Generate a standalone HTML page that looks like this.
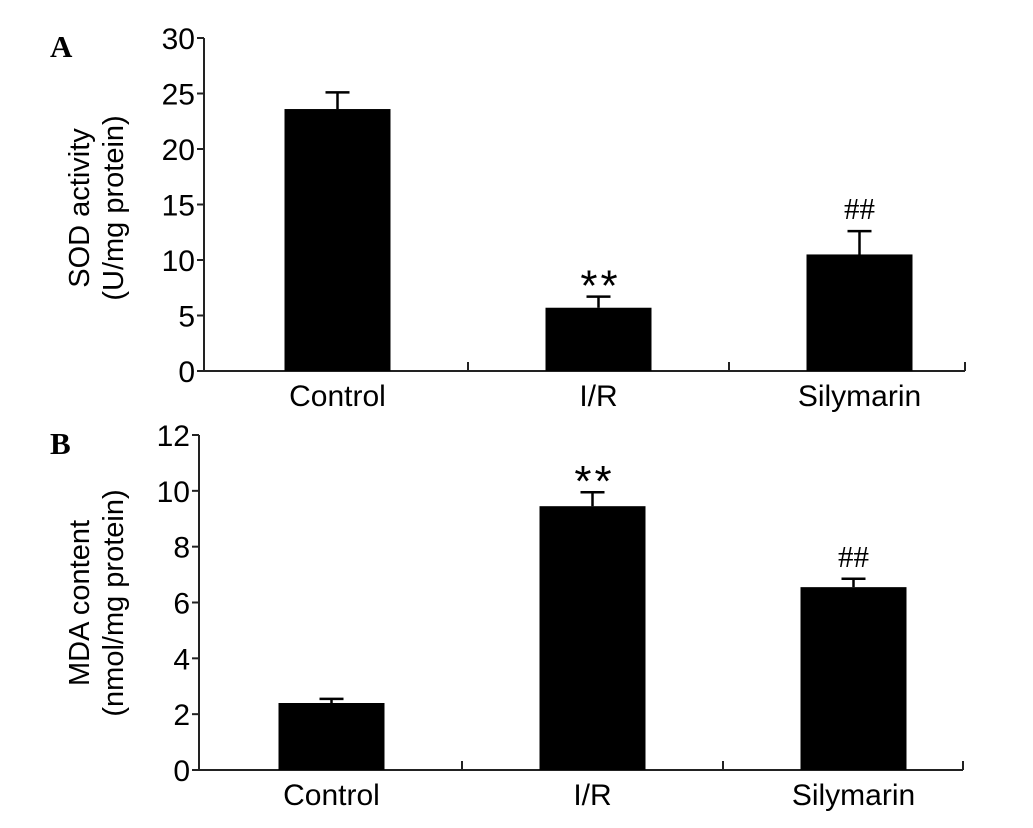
<!DOCTYPE html>
<html><head><meta charset="utf-8"><style>
body{margin:0;background:#fff}
svg{display:block;font-family:"Liberation Sans",Arial,sans-serif}
</style></head><body>
<svg id="chart" width="1033" height="828" viewBox="0 0 1033 828">
<text x="50" y="57" font-family="Liberation Serif,serif" font-weight="bold" font-size="31">A</text>
<text x="50" y="454" font-family="Liberation Serif,serif" font-weight="bold" font-size="31">B</text>
<text transform="translate(89,208) rotate(-90)" text-anchor="middle" font-size="29">SOD activity</text>
<text transform="translate(123,208) rotate(-90)" text-anchor="middle" font-size="29">(U/mg protein)</text>
<text transform="translate(89,603) rotate(-90)" text-anchor="middle" font-size="29">MDA content</text>
<text transform="translate(123,603) rotate(-90)" text-anchor="middle" font-size="29">(nmol/mg protein)</text>
</svg>
<script>
const categories = ["Control", "I/R", "Silymarin"];
const sodValues = [23.6, 5.7, 10.5];
const sodErrors = [1.5, 1.0, 2.1];
const sodMarks = ["", "**", "##"];
const sodTicks = [0, 5, 10, 15, 20, 25, 30];
const mdaValues = [2.4, 9.45, 6.55];
const mdaErrors = [0.15, 0.5, 0.3];
const mdaMarks = ["", "**", "##"];
const mdaTicks = [0, 2, 4, 6, 8, 10, 12];

const svg = document.getElementById('chart');
const NS = 'http://www.w3.org/2000/svg';
function mk(tag, attrs, parent) {
  const e = document.createElementNS(NS, tag);
  for (const k in attrs) e.setAttribute(k, attrs[k]);
  (parent || svg).appendChild(e);
  return e;
}
function panel(p, vals, errs, marks, ticks) {
  const g = mk('g', {});
  
  
  const maxV = ticks[ticks.length - 1];
  const y = v => p.y0 - (p.y0 - p.yTop) * v / maxV;
  const cx = i => p.x0 + p.band * (i + 0.5);
  const ya = mk('line', {x1: p.ax, y1: p.yTop, x2: p.ax, y2: p.y0, stroke: '#222', 'stroke-width': 2}, g);
  
  
  ticks.forEach(t => {
    mk('line', {x1: p.ax - 7, y1: y(t), x2: p.ax, y2: y(t), stroke: '#222', 'stroke-width': 2}, g);
    const tl = mk('text', {x: p.ax - 9, y: y(t) + 11, 'text-anchor': 'end', 'font-size': 30}, g);
    tl.textContent = t;
    
    
  });
  const xa = mk('line', {x1: p.ax, y1: p.y0, x2: p.xEnd, y2: p.y0, stroke: '#222', 'stroke-width': 2}, g);
  
  
  for (let i = 1; i <= categories.length; i++) {
    const tx = i === categories.length ? p.xEnd : p.x0 + p.band * i;
    mk('line', {x1: tx, y1: p.y0, x2: tx, y2: p.y0 - 9, stroke: '#222', 'stroke-width': 2}, g);
  }
  categories.forEach((c, i) => {
    const bw = 106;
    const b = mk('rect', {x: cx(i) - bw / 2, y: y(vals[i]), width: bw, height: p.y0 - y(vals[i]), fill: '#000'}, g);
    
    
    const et = y(vals[i] + errs[i]);
    const el = mk('path', {d: `M${cx(i)} ${y(vals[i])}V${et}M${cx(i) - 12} ${et}H${cx(i) + 12}`, stroke: '#000', 'stroke-width': 2.5, fill: 'none'}, g);
    
    
    const lab = mk('text', {x: cx(i), y: p.y0 + 35, 'text-anchor': 'middle', 'font-size': 30}, g);
    lab.textContent = c;
    
    
    if (marks[i]) {
      const isStar = marks[i] === '**';
      const m = isStar
        ? mk('text', {x: cx(i) + 2, y: et + 4, 'text-anchor': 'middle', 'font-size': 44, 'letter-spacing': 3, 'font-family': 'Liberation Sans,sans-serif'}, g)
        : mk('text', {x: cx(i), y: et - 12, 'text-anchor': 'middle', 'font-size': 31, 'font-family': 'Liberation Serif,serif'}, g);
      m.textContent = marks[i];
      
      
    }
  });
}
panel({id: 'a', ax: 204, x0: 207, band: 261, xEnd: 965, y0: 371, yTop: 38}, sodValues, sodErrors, sodMarks, sodTicks);
panel({id: 'b', ax: 199, x0: 201, band: 261, xEnd: 963, y0: 770, yTop: 435}, mdaValues, mdaErrors, mdaMarks, mdaTicks);
</script>
</body></html>
